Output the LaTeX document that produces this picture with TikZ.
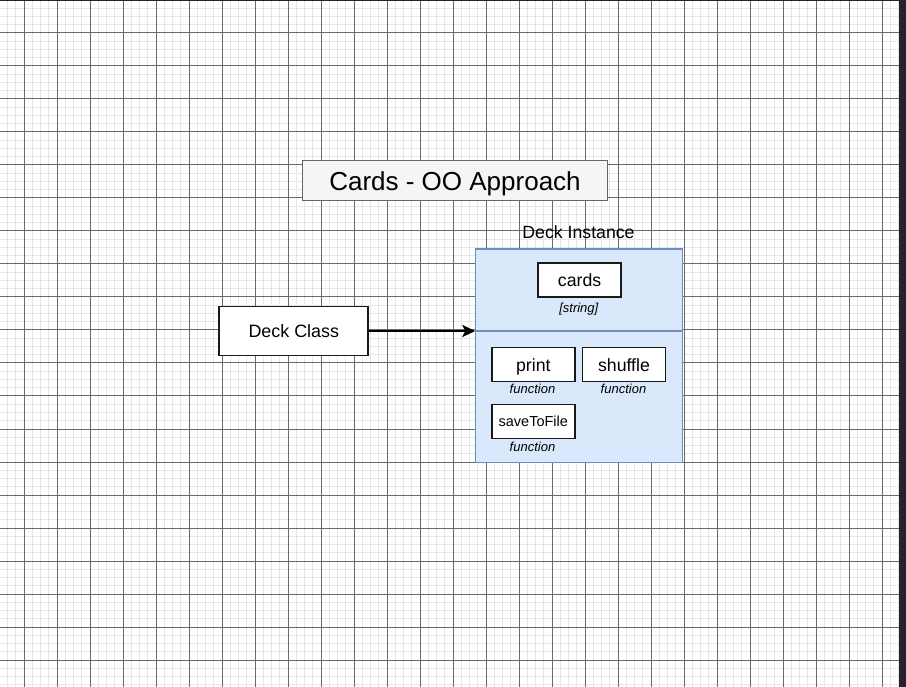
\documentclass[tikz,border=0pt]{standalone}
\usepackage{fontspec}
\setmainfont{Liberation Sans}
\usetikzlibrary{arrows.meta}
\definecolor{minorc}{HTML}{E6E6E6}
\definecolor{majorc}{HTML}{6A6A6A}
\definecolor{instfill}{HTML}{DAE8FC}
\definecolor{instdraw}{HTML}{6C8EBF}
\definecolor{titlefill}{HTML}{F5F5F5}
\definecolor{titledraw}{HTML}{666666}
\definecolor{framec}{HTML}{25222B}
\tikzset{
  minorline/.style={draw=minorc, line width=1pt},
  majorline/.style={draw=majorc, line width=1pt},
  member/.style={draw=black!90, line width=1.5pt, fill=white, inner sep=0pt,
    minimum width=83pt, minimum height=34pt, font=\fontsize{17.7}{20}\selectfont,
    text height=12.7pt, text depth=0pt},
  typelabel/.style={inner sep=0pt, font=\fontsize{13}{15}\selectfont\itshape},
}
\begin{document}
\begin{tikzpicture}[x=1pt,y=-1pt]
\useasboundingbox (0,0) rectangle (906,687);
\fill[white] (0,0) rectangle (906,687);
% minor grid
\foreach \k in {0,...,110} { \draw[minorline] ({24+8.25*(\k-3)},0) -- ({24+8.25*(\k-3)},687); }
\foreach \k in {1,...,83} { \draw[minorline] (0,{8.25*\k}) -- (906,{8.25*\k}); }
% major grid
\foreach \k in {0,...,26} { \draw[majorline] ({24+33*\k},0) -- ({24+33*\k},687); }
\foreach \k in {1,...,20} { \draw[majorline] (0,{33*\k}) -- (906,{33*\k}); }
% frame
\fill[framec] (0,0) rectangle (906,1.5);
\fill[framec] (899.3,0) rectangle (906,687);

% title
\node[draw=titledraw, fill=titlefill, line width=0.8pt, inner sep=0pt,
  minimum width=305pt, minimum height=40pt, font=\fontsize{26}{30}\selectfont,
  text height=18.6pt, text depth=0pt]
  (title) at (455,180.9) {Cards - OO Approach};

% deck class
\node[draw=black!90, line width=1.8pt, fill=white, inner sep=0pt,
  minimum width=149pt, minimum height=49pt, font=\fontsize{17.9}{20}\selectfont,
  text height=12.8pt, text depth=0pt]
  (deckclass) at (293.8,331) {Deck Class};

% instance container
\node[draw=instdraw, fill=instfill, line width=1.5pt, inner sep=0pt,
  minimum width=207pt, minimum height=213.3pt] (inst) at (578.8,355.65) {};
\node[inner sep=0pt, font=\fontsize{17.7}{20}\selectfont, text height=12.7pt, text depth=0pt]
  (instlabel) at (578.5,232) {Deck Instance};
\coordinate (divL) at (475.3,331);
\coordinate (divR) at (682.3,331);
\draw[draw=instdraw, line width=1.6pt] (divL) -- (divR);

% members
\node[member] (cards) at (579.6,280) {cards};
\node[typelabel] (cardstype) at (578.8,309.5) {[string]};
\node[member] (print) at (533.3,364.7) {print};
\node[typelabel] (printtype) at (532.5,389.3) {function};
\node[member] (shuffle) at (624,364.7) {shuffle};
\node[typelabel] (shuffletype) at (623.5,389.3) {function};
\node[member, font=\fontsize{14.5}{17}\selectfont, text height=10.4pt] (save) at (533.3,421.7) {saveToFile};
\node[typelabel] (savetype) at (532.5,446.7) {function};

% arrow
\draw[line width=2.2pt, -{Stealth[length=13pt,width=12pt,inset=3pt]}] (deckclass.east) -- (divL);
\end{tikzpicture}
\end{document}
